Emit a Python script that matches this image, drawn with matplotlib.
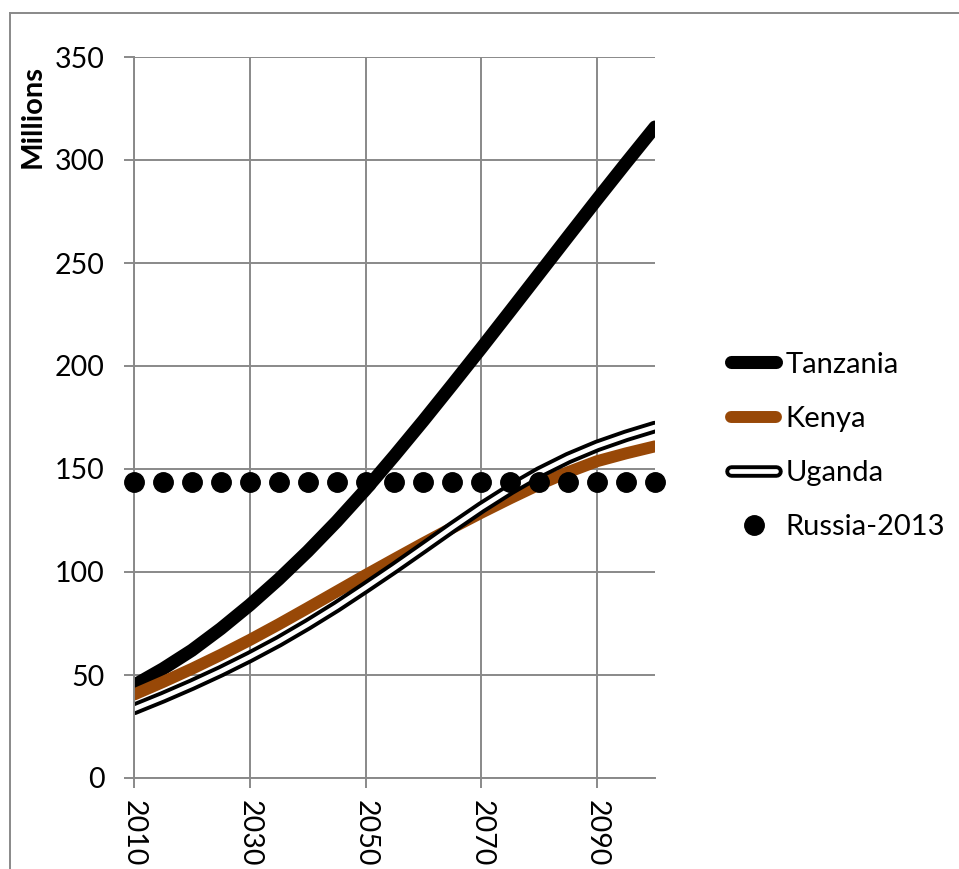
import matplotlib.pyplot as plt
import matplotlib.patheffects as pe
from matplotlib.lines import Line2D

plt.rcParams['font.family'] = ['Lato', 'DejaVu Sans']

# Dữ liệu dân số (triệu người), mỗi 5 năm
years = [2010, 2015, 2020, 2025, 2030, 2035, 2040, 2045, 2050, 2055,
         2060, 2065, 2070, 2075, 2080, 2085, 2090, 2095, 2100]
tanzania = [45, 53, 62, 72.5, 84, 96.5, 110, 124.5, 140, 156.5,
            173.5, 191, 208.7, 226.7, 244.8, 262.9, 280.9, 298.6, 316]
kenya = [40.5, 46.6, 53, 59.8, 67, 74.6, 82.5, 90.5, 98.5, 106.3,
         114, 121.5, 128.8, 135.8, 142.5, 148.5, 153.8, 157.6, 161]
uganda = [33.5, 39.2, 45.3, 51.8, 58.8, 66.3, 74.5, 83.2, 92.5, 102,
          111.8, 121.7, 131.3, 140.2, 148.3, 155.3, 161.2, 166.1, 170.4]
russia_2013 = 143.5
russia = [russia_2013] * len(years)

grid_col = '#898989'
W, H = 959, 869

fig = plt.figure(figsize=(W / 100, H / 100), dpi=100)
ax = fig.add_axes([134 / W, 1 - 778 / H, (655 - 134) / W, (778 - 57) / H])

ax.plot(years, tanzania, color='black', lw=9.4, solid_capstyle='round',
        solid_joinstyle='round', label='Tanzania')
ax.plot(years, kenya, color='#984807', lw=8.6, solid_capstyle='round',
        solid_joinstyle='round', label='Kenya')
ax.plot(years, uganda, color='white', lw=3.4, solid_capstyle='round',
        solid_joinstyle='round', label='Uganda',
        path_effects=[pe.Stroke(linewidth=9.0, foreground='black'), pe.Normal()])
ax.plot(years, russia, linestyle='none', marker='o', markersize=14, color='black',
        clip_on=False, zorder=5, label='Russia-2013')

ax.set_xlim(2010, 2100)
ax.set_ylim(0, 350)
ax.set_xticks([2010, 2030, 2050, 2070, 2090])
ax.set_yticks(range(0, 351, 50))
ax.grid(True, color=grid_col, lw=1.4)
ax.set_axisbelow(True)
for s in ['top', 'right']:
    ax.spines[s].set_visible(False)
for s in ['left', 'bottom']:
    ax.spines[s].set_color(grid_col)
    ax.spines[s].set_linewidth(1.4)
ax.tick_params(axis='both', length=7.2, width=1.4, color=grid_col, labelsize=20.5)
ax.tick_params(axis='y', pad=14)
ax.tick_params(axis='x', pad=9, labelrotation=-90)

fig.text(33 / W, 1 - 65 / H, 'Millions', rotation=90, va='top', ha='center',
         fontsize=21, fontweight='bold')

ax.legend(loc='center left', bbox_to_anchor=(731 / W, 1 - 446 / H),
          bbox_transform=fig.transFigure, frameon=False, fontsize=21,
          handlelength=1.55, handletextpad=0.33, labelspacing=0.97,
          borderpad=0, borderaxespad=0, numpoints=1)

# khung viền biểu đồ
fig.add_artist(Line2D([10 / W, 10 / W], [0, 1 - 13 / H], color=grid_col, lw=1.4))
fig.add_artist(Line2D([10 / W, 1], [1 - 13 / H, 1 - 13 / H], color=grid_col, lw=1.4))

fig.savefig('out.png', dpi=100)
